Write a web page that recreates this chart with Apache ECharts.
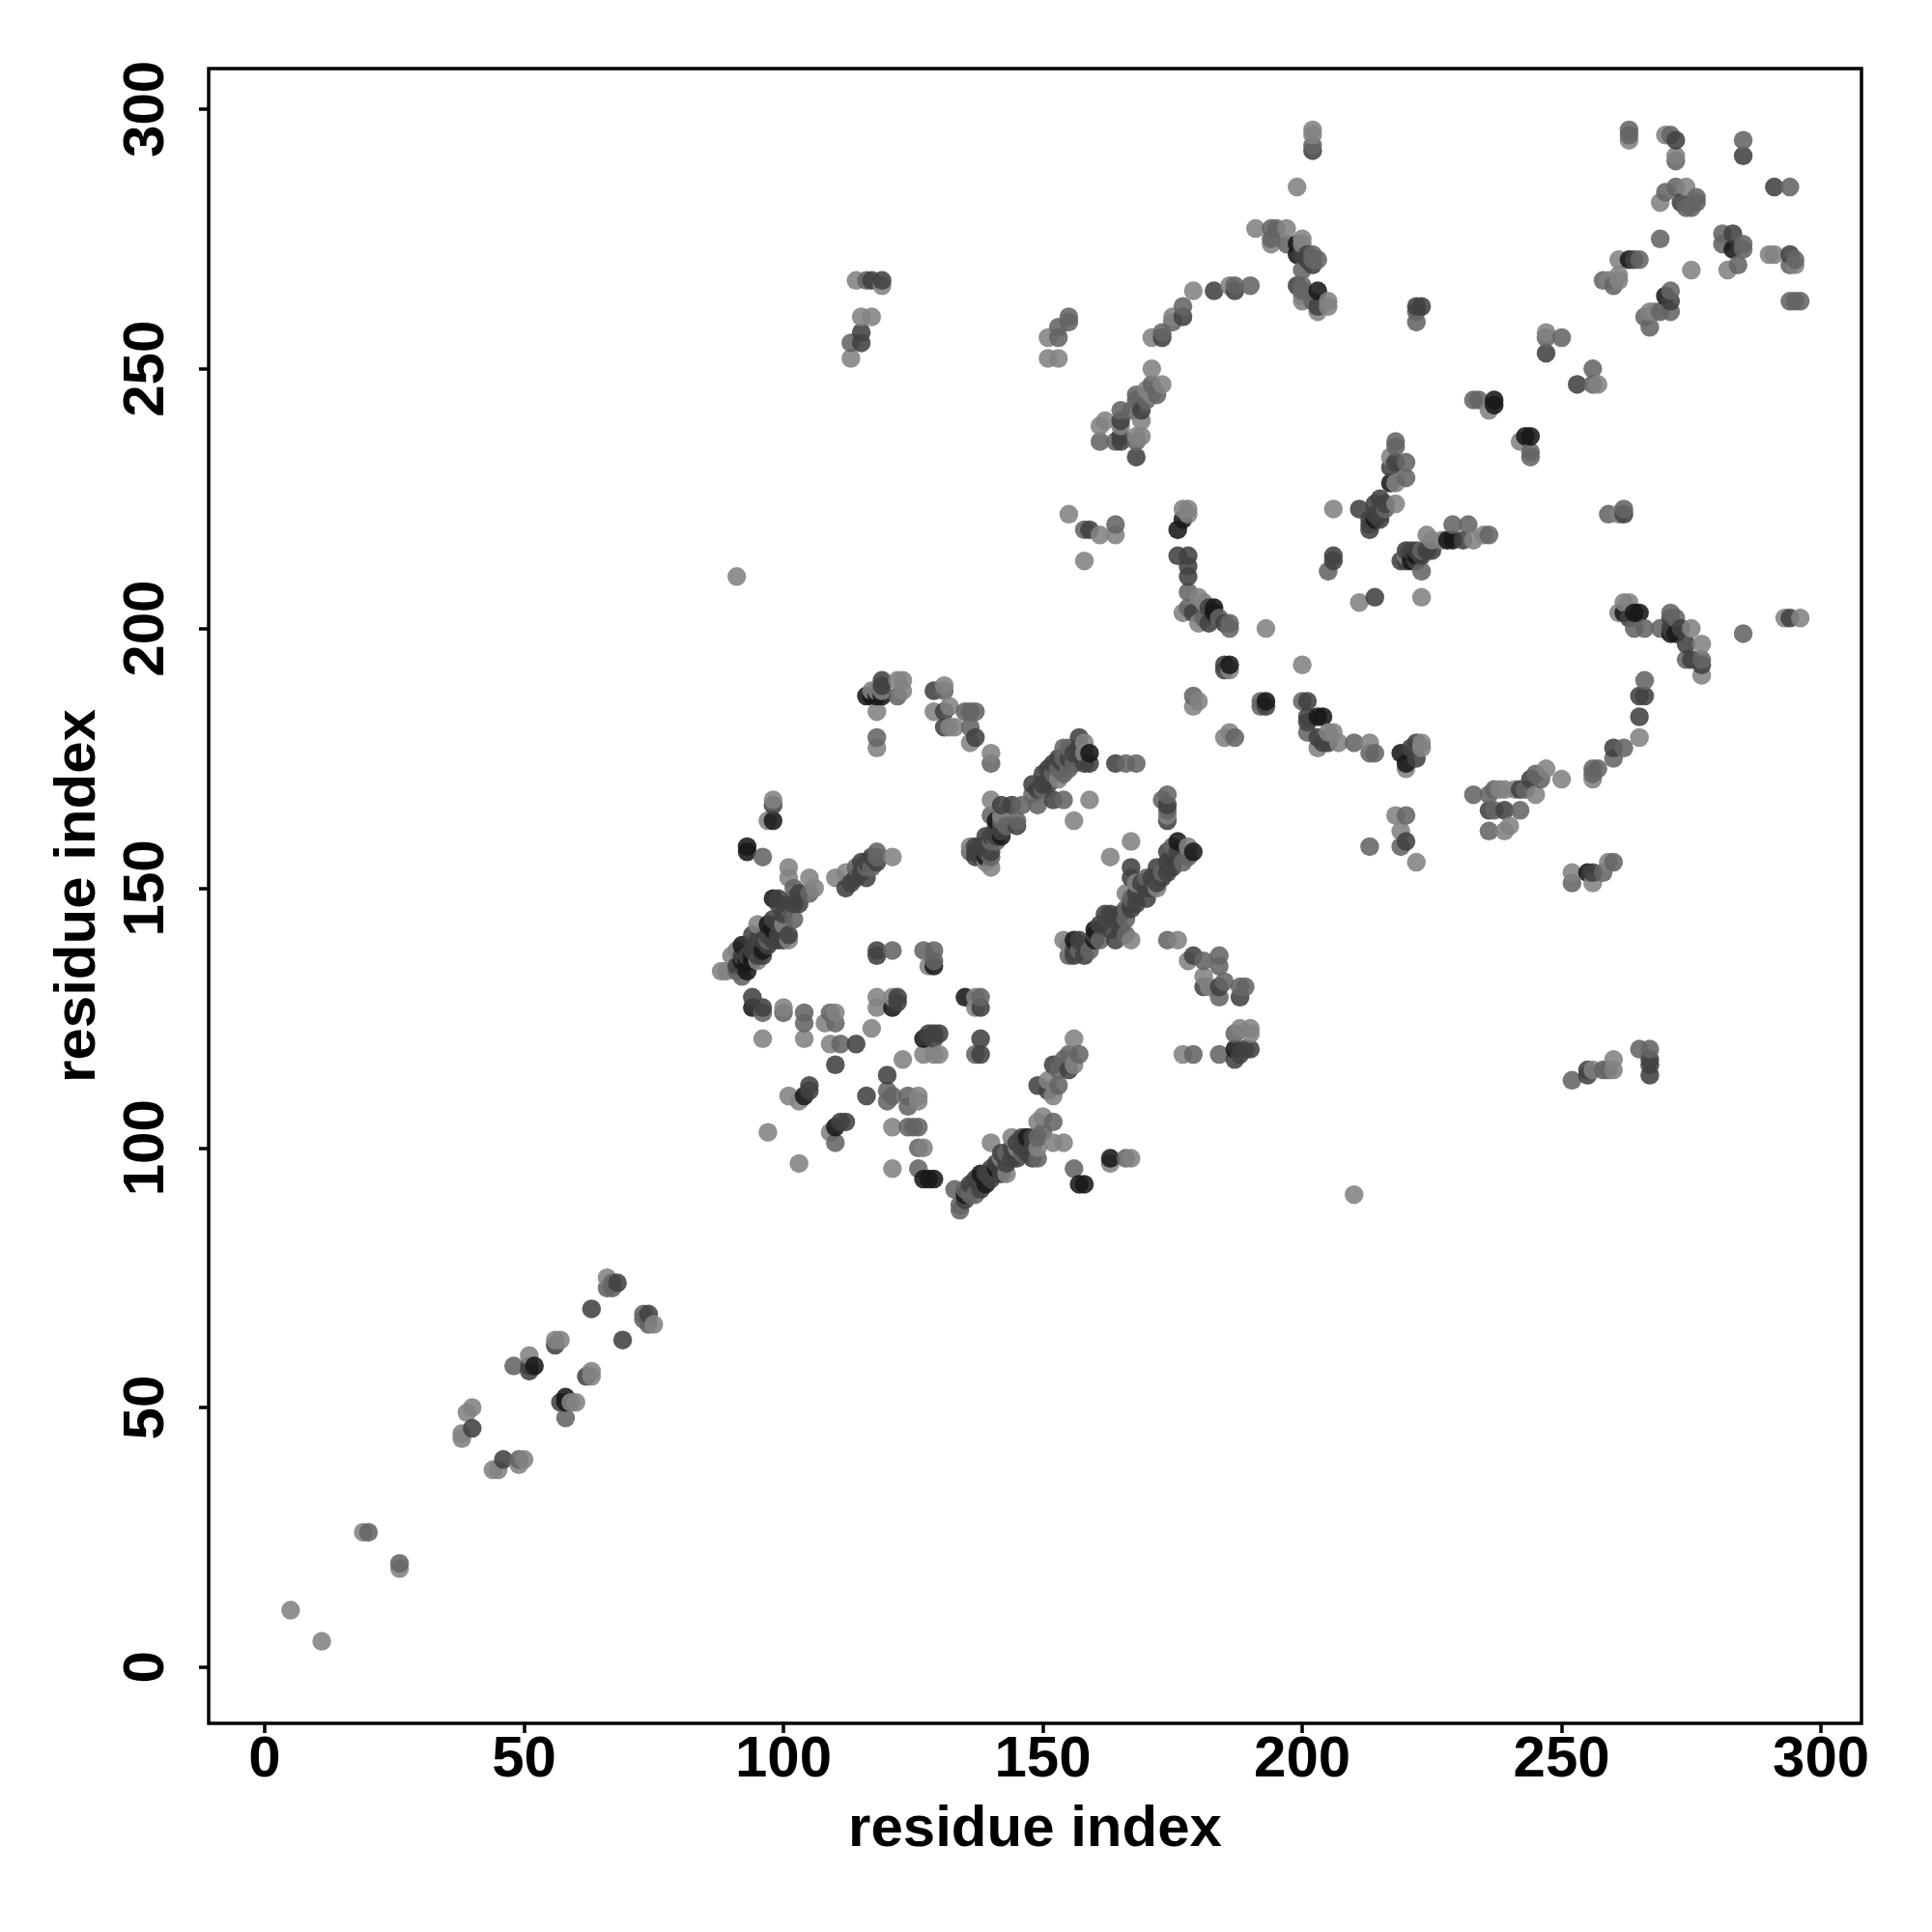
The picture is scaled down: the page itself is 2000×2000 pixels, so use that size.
<!DOCTYPE html>
<html><head><meta charset="utf-8">
<style>html,body{margin:0;padding:0;background:#fff}#c{width:2000px;height:2000px}</style>
<script src="https://cdn.jsdelivr.net/npm/echarts@6/dist/echarts.min.js"></script>
</head><body><div id="c"></div>
<script>
const tickLabels=[0,50,100,150,200,250,300];
const axisTitle="residue index";
const lightContacts=[[5,11],[11,5],[19,26],[26,19],[38,44],[38,45],[39,49],[40,50],[44,38],[45,38],[49,39],[50,40],[51,60],[56,63],[57,63],[59,51],[60,51],[63,57],[63,56],[66,75],[75,66],[88,134],[89,134],[90,137],[91,138],[95,136],[95,143],[91,210],[96,121],[97,103],[100,127],[101,154],[101,152],[101,140],[100,143],[103,97],[101,110],[103,109],[104,121],[105,152],[106,150],[109,120],[109,103],[108,124],[110,126],[110,152],[112,153],[113,252],[114,267],[115,260],[117,260],[119,266],[117,123],[118,129],[118,127],[118,177],[118,184],[118,188],[121,104],[121,96],[121,129],[121,156],[122,190],[123,190],[123,188],[123,117],[126,110],[126,109],[127,100],[127,118],[128,135],[129,118],[129,184],[130,118],[131,189],[132,185],[132,181],[133,181],[136,178],[136,158],[137,129],[137,127],[140,176],[140,167],[140,154],[140,101],[142,98],[143,95],[144,102],[149,105],[150,106],[151,113],[151,252],[151,256],[152,110],[152,101],[153,252],[154,101],[154,140],[155,222],[156,121],[156,116],[156,163],[158,213],[158,178],[159,167],[161,218],[161,239],[162,240],[163,156],[163,97],[164,218],[167,98],[167,159],[167,140],[166,149],[169,240],[169,237],[171,256],[171,250],[173,247],[175,260],[176,140],[177,118],[177,223],[178,223],[178,222],[177,203],[178,136],[178,158],[179,265],[179,185],[180,186],[180,206],[180,201],[181,133],[182,131],[185,179],[186,180],[186,192],[186,266],[188,123],[190,123],[190,122],[191,277],[193,200],[194,274],[197,277],[200,193],[200,275],[200,264],[203,177],[203,261],[205,263],[205,262],[205,180],[206,180],[206,223],[207,178],[211,205],[213,178],[217,233],[218,228],[218,224],[219,161],[218,164],[210,91],[222,155],[223,206],[220,214],[224,218],[225,217],[227,217],[233,217],[235,218],[236,242],[239,161],[240,162],[241,169],[242,236],[245,168],[247,173],[250,171],[247,257],[252,153],[256,151],[256,171],[257,247],[259,155],[260,117],[260,115],[261,222],[261,203],[262,205],[263,205],[261,271],[261,267],[261,268],[259,267],[263,294],[267,261],[268,261],[269,282],[270,295],[272,291],[274,285],[275,269],[275,200],[277,197],[277,191],[282,269],[290,272],[291,272],[293,202],[295,270],[296,202],[265,179],[202,296],[199,285],[223,178],[223,177],[220,173],[256,115],[202,295],[119,188],[98,167],[97,163],[165,239],[168,237],[170,246],[171,245],[200,263],[200,274],[181,205],[238,169],[239,169],[153,171],[158,176],[155,139],[172,150],[168,151],[174,164],[142,164],[139,155],[149,100],[145,100],[117,188]];
const midContacts=[[20,26],[26,20],[48,58],[49,40],[58,48],[66,73],[67,74],[67,73],[73,67],[73,68],[74,66],[91,134],[92,133],[96,156],[96,126],[97,140],[100,126],[102,150],[102,144],[104,126],[104,124],[105,149],[109,126],[110,101],[110,124],[111,120],[113,255],[116,267],[117,154],[118,179],[118,157],[120,111],[120,109],[121,138],[121,110],[124,110],[124,108],[124,104],[125,104],[126,104],[126,100],[126,96],[127,138],[129,138],[129,136],[131,188],[135,184],[136,184],[137,184],[136,181],[138,129],[137,118],[140,174],[140,164],[140,159],[145,163],[146,166],[149,166],[149,102],[150,103],[152,105],[153,258],[153,256],[155,260],[155,259],[153,112],[153,115],[154,117],[154,172],[154,167],[154,177],[155,177],[155,118],[157,118],[156,96],[158,219],[164,220],[165,242],[166,98],[166,174],[168,174],[166,144],[166,146],[168,245],[168,244],[168,236],[170,244],[171,247],[172,245],[173,257],[175,259],[177,262],[174,168],[174,140],[173,167],[179,187],[179,118],[178,207],[181,136],[184,137],[184,135],[184,118],[184,129],[185,132],[186,201],[186,200],[187,179],[187,122],[188,131],[189,131],[187,266],[190,266],[192,186],[192,185],[194,277],[194,275],[195,277],[197,274],[200,269],[200,266],[200,186],[202,271],[203,271],[202,263],[201,180],[205,211],[210,178],[213,176],[214,176],[213,158],[218,236],[218,235],[220,232],[220,229],[222,261],[222,259],[223,211],[219,158],[220,164],[229,220],[232,220],[236,218],[233,244],[234,244],[237,169],[236,168],[233,168],[236,161],[237,165],[242,165],[243,169],[244,234],[244,233],[245,172],[247,256],[250,256],[252,151],[252,113],[256,173],[256,172],[257,173],[258,153],[258,115],[259,115],[260,175],[260,155],[262,177],[259,222],[262,223],[264,200],[266,200],[269,200],[271,203],[272,202],[266,190],[277,194],[274,194],[263,296],[263,295],[271,295],[270,284],[272,285],[272,290],[274,281],[275,281],[276,283],[276,282],[269,275],[271,265],[271,261],[269,261],[266,260],[267,258],[258,267],[260,266],[265,271],[281,276],[281,274],[285,274],[285,273],[284,270],[285,294],[285,199],[294,285],[294,263],[295,263],[296,263],[295,271],[294,270],[265,119],[267,119],[256,250],[256,247],[134,88],[134,89],[133,92],[135,92],[136,91],[137,91],[136,157],[142,163],[202,293],[122,187],[161,236],[164,236],[167,242],[200,265],[178,204],[202,272],[155,173],[153,173],[156,174],[152,172],[150,169],[148,168],[154,175],[159,138],[155,137],[157,138],[161,140],[166,141],[167,148],[170,152],[173,153],[177,155],[175,158],[178,156],[140,156],[143,162],[141,159],[143,99],[146,99],[149,98],[174,165],[116,154],[118,156],[114,154],[246,171],[223,215],[216,223],[181,202],[184,202]];
const darkContacts=[[40,46],[46,40],[56,62],[51,57],[51,58],[62,56],[63,69],[69,63],[68,74],[74,68],[57,51],[94,129],[96,127],[98,166],[99,148],[99,147],[99,140],[102,148],[102,147],[94,141],[95,140],[99,143],[100,145],[105,112],[105,111],[111,105],[112,105],[112,150],[113,151],[114,152],[116,110],[116,152],[115,153],[115,155],[118,155],[118,138],[118,137],[114,120],[110,116],[115,255],[115,257],[117,267],[119,267],[120,114],[122,129],[122,128],[128,122],[129,122],[130,122],[129,121],[129,188],[131,184],[131,181],[137,179],[138,127],[138,121],[138,118],[142,166],[142,162],[144,166],[145,162],[139,160],[148,170],[148,98],[148,100],[149,169],[149,112],[150,170],[150,172],[151,173],[151,111],[152,174],[152,116],[152,167],[153,175],[155,115],[157,179],[157,176],[159,174],[159,219],[158,137],[156,137],[157,140],[162,145],[163,145],[163,142],[164,140],[164,174],[165,240],[165,237],[165,236],[167,154],[167,152],[168,233],[169,242],[170,148],[168,147],[174,166],[174,163],[173,152],[172,154],[171,152],[169,151],[175,154],[174,155],[177,260],[173,256],[179,137],[178,214],[178,212],[178,210],[176,214],[179,203],[181,131],[182,201],[183,265],[184,131],[187,265],[188,129],[187,117],[188,118],[189,119],[190,119],[193,185],[185,193],[185,192],[200,273],[200,272],[201,186],[201,183],[201,182],[202,270],[202,292],[203,262],[203,179],[204,178],[205,178],[206,214],[206,213],[211,223],[213,220],[213,219],[214,206],[214,224],[215,222],[215,221],[215,225],[216,224],[217,231],[218,232],[219,213],[220,159],[221,215],[221,177],[222,215],[223,214],[222,175],[222,178],[222,262],[223,262],[224,215],[225,215],[231,217],[247,253],[253,247],[236,165],[239,165],[242,169],[244,171],[255,114],[256,153],[255,115],[262,222],[263,202],[265,187],[266,187],[265,183],[260,177],[271,202],[271,200],[273,200],[274,197],[275,194],[277,193],[271,263],[264,271],[272,294],[273,282],[283,276],[285,291],[291,285],[294,272],[294,202],[267,117],[267,116],[267,114],[135,90],[136,93],[137,94],[138,92],[139,95],[140,94],[140,96],[141,95],[141,97],[142,95],[143,97],[144,98],[144,100],[145,98],[146,100],[146,102],[147,99],[137,157],[138,156],[137,156],[138,158],[140,157],[141,160],[141,161],[139,157],[92,135],[91,135],[92,137],[93,137],[94,138],[95,137],[95,139],[96,137],[96,140],[97,139],[97,141],[98,140],[98,144],[99,141],[100,142],[100,140],[101,141],[119,190],[119,189],[201,271],[201,272],[199,266],[154,174],[155,175],[151,170],[156,176],[157,177],[158,174],[158,139],[160,141],[161,143],[164,144],[165,142],[165,145],[167,146],[167,147],[168,149],[170,150],[171,150],[172,151],[174,153],[175,156],[176,157],[174,157],[156,138],[137,158],[139,158],[140,160],[141,162],[142,161],[142,99],[145,101],[147,101],[148,102],[103,149],[103,147],[117,156],[116,155],[220,215],[220,213],[222,213],[214,222],[213,221],[182,204],[185,201]];
const blackContacts=[[52,58],[58,52],[58,51],[92,136],[92,139],[93,134],[93,136],[93,158],[93,157],[94,136],[94,137],[94,127],[96,138],[97,143],[98,142],[98,148],[98,163],[104,110],[110,104],[116,187],[117,187],[118,187],[119,187],[121,127],[127,121],[127,94],[128,94],[129,94],[129,135],[135,129],[135,91],[138,95],[139,156],[139,93],[141,163],[142,160],[141,96],[147,102],[157,93],[158,93],[159,176],[160,142],[160,140],[156,140],[163,98],[176,159],[179,157],[177,221],[176,219],[183,204],[183,203],[186,193],[187,119],[193,186],[199,274],[199,272],[203,265],[203,183],[204,183],[214,221],[217,228],[219,176],[220,174],[221,213],[222,214],[228,217],[229,217],[237,244],[237,243],[243,237],[244,237],[255,153],[262,203],[264,203],[265,203],[271,199],[272,199],[283,273],[263,271],[270,264]];
const shadeGroups=[lightContacts,midContacts,darkContacts,blackContacts];
const shadeGrays=[130,100,65,24];
const font='"Liberation Sans", Arial, sans-serif';
const points=[];
shadeGroups.forEach((g,k)=>g.forEach(p=>points.push([p[0],p[1],k])));
points.sort((a,b)=>a[0]-b[0]||a[1]-b[1]);
const axisCommon={type:'value',min:-10.8,max:307.8,interval:50,splitLine:{show:false},
 axisLine:{show:false,onZero:false},
 axisTick:{show:true,length:10,inside:false,lineStyle:{color:'#000',width:3.5},customValues:tickLabels},
 nameLocation:'center',name:axisTitle,
 nameTextStyle:{fontFamily:font,fontWeight:'bold',fontSize:60,color:'#000'}};
const chart=echarts.init(document.getElementById('c'),null,{renderer:'canvas'});
chart.setOption({animation:false,backgroundColor:'#fff',
 grid:{show:true,left:216,right:73,top:71,bottom:216,borderColor:'#000',borderWidth:3.5,backgroundColor:'transparent',containLabel:false},
 xAxis:Object.assign({},axisCommon,{nameGap:80,
  axisLabel:{show:true,customValues:tickLabels,margin:8,fontFamily:font,fontWeight:'bold',fontSize:60,color:'#000',hideOverlap:false}}),
 yAxis:Object.assign({},axisCommon,{nameGap:105,
  axisLabel:{show:true,customValues:tickLabels,rotate:90,margin:34,fontFamily:font,fontWeight:'bold',fontSize:60,color:'#000',hideOverlap:false}}),
 series:[{type:'scatter',symbol:'circle',symbolSize:19.5,data:points,silent:true,large:false,
  itemStyle:{opacity:0.88,color:p=>{const g=shadeGrays[p.value[2]];return `rgb(${g},${g},${g})`;}}}]
});
</script></body></html>
